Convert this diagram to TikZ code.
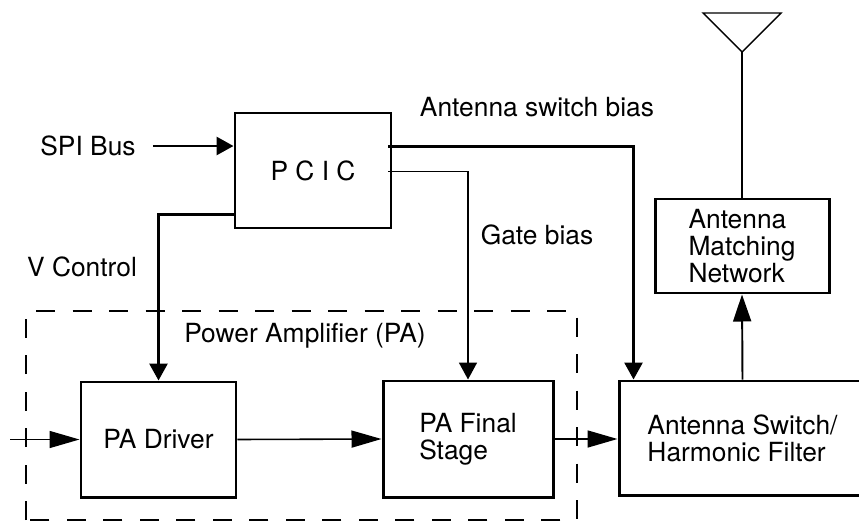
\documentclass[tikz,border=0pt]{standalone}
\usepackage{fontspec}
\setmainfont{TeX Gyre Heros}
\usetikzlibrary{arrows.meta, positioning, calc}
\tikzset{
    blk/.style={rectangle, draw=black, line width=1.7pt, align=left,
        inner sep=0pt, font=\fontsize{15pt}{15.5pt}\selectfont},
    lbl/.style={inner sep=0pt, font=\fontsize{15pt}{15.5pt}\selectfont},
    arr/.style={-{Triangle[length=0.34cm, width=0.36cm]}, line width=1.6pt},
    arrthin/.style={-{Triangle[length=0.34cm, width=0.36cm]}, line width=1pt},
    arrrf/.style={-{Triangle[length=0.6cm, width=0.34cm]}, line width=0.9pt},
    pabox/.style={draw, line width=1.6pt, dash pattern=on 0.38cm off 0.35cm},
}

\begin{document}
\begin{tikzpicture}

\useasboundingbox (0, 0) rectangle (17.18, 10.44);

% ================================================================
%  CONTROL
% ================================================================

\node[blk, minimum width=3.12cm, minimum height=2.3cm] (pcic) at (6.26, 7.03)
    {P C I C};

\node[lbl] (spilbl) at (1.76, 7.52) {SPI Bus};
\node[lbl] (vctrl) at (1.64, 5.10) {V Control};
\node[lbl] (swbias) at (10.74, 8.30) {Antenna switch bias};
\node[lbl] (gatebias) at (10.74, 5.74) {Gate bias};

% ================================================================
%  POWER AMPLIFIER
% ================================================================

\node[blk, minimum width=3.1cm, minimum height=2.3cm] (driver) at (3.17, 1.65)
    {PA Driver};
\node[blk, minimum width=3.4cm, minimum height=2.32cm] (final) at (9.36, 1.66)
    {PA Final\\Stage};

\draw[pabox] (0.52, 0.04) rectangle (11.54, 4.22);
\node[lbl] (palbl) at (6.10, 3.72) {Power Amplifier (PA)};

% ================================================================
%  ANTENNA SIDE
% ================================================================

\node[blk, minimum width=4.94cm, minimum height=2.28cm] (switch) at (14.85, 1.68)
    {Antenna Switch/\\Harmonic Filter};
\node[blk, minimum width=3.48cm, minimum height=1.88cm] (match) at (14.84, 5.52)
    {Antenna\\Matching\\Network};

\coordinate (anttip) at (14.84, 9.40);
\draw[line width=0.8pt] (anttip) -- (14.06, 10.18) -- (15.62, 10.18) -- cycle;

% ================================================================
%  CONNECTIONS
% ================================================================

% Bias and control lines
\draw[arr] ([xshift=0.34cm]spilbl.east) -- (pcic.west |- spilbl.east);
\draw[arr] ([yshift=0.3cm]pcic.south west) -| (driver.north);
\draw[arr] ([xshift=-0.08cm, yshift=-0.7cm]pcic.north east)
    -| ([xshift=0.32cm]switch.north west);
\draw[arrthin] ([xshift=-0.08cm, yshift=-1.2cm]pcic.north east)
    -| (final.north);

% RF path
\coordinate (rfin) at (0.2, 1.65);
\draw[arrrf] (rfin) -- (driver.west);
\draw[arrrf] (driver.east) -- (final.west);
\draw[arrrf] (final.east) -- (final.east -| switch.west);
\draw[-{Triangle[length=0.54cm, width=0.36cm]}, line width=1.1pt]
    (switch.north) -- (match.south);
\draw[line width=1.4pt] (match.north) -- (anttip);

\end{tikzpicture}
\end{document}
